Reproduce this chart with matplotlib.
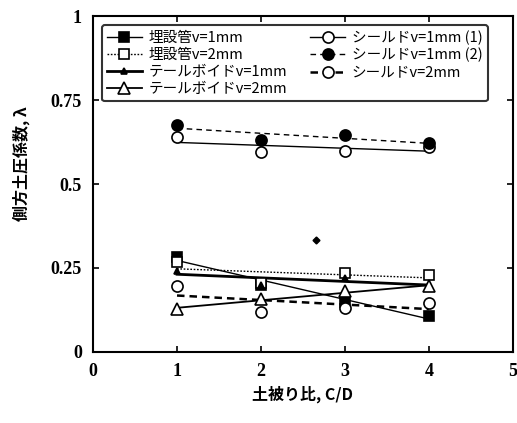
import numpy as np
import matplotlib
matplotlib.use("Agg")
import matplotlib.pyplot as plt
from matplotlib.lines import Line2D

plt.rcParams['font.family'] = ['Noto Sans CJK JP', 'DejaVu Sans']

cd = [1, 2, 3, 4]
pipe_1mm = [0.284, 0.200, 0.150, 0.107]
pipe_2mm = [0.269, 0.204, 0.234, 0.229]
tail_1mm = [0.242, 0.200, 0.219, 0.200]
tail_2mm = [0.128, 0.157, 0.180, 0.195]
shield_1mm_a = [0.640, 0.595, 0.598, 0.610]
shield_1mm_b = [0.676, 0.631, 0.646, 0.621]
shield_2mm = [0.196, 0.118, 0.130, 0.147]
stray_x = [2.65]
stray_y = [0.333]

labels = ['埋設管v=1mm', '埋設管v=2mm', 'テールボイドv=1mm', 'テールボイドv=2mm',
          'シールドv=1mm (1)', 'シールドv=1mm (2)', 'シールドv=2mm']
series = [pipe_1mm, pipe_2mm, tail_1mm, tail_2mm, shield_1mm_a, shield_1mm_b, shield_2mm]
styles = [
    dict(marker='s', mfc='black', ms=7.5, ls='-', lw=1.0),
    dict(marker='s', mfc='white', ms=7.5, ls=(0, (1.2, 1.2)), lw=1.0),
    dict(marker='^', mfc='black', ms=4, ls='-', lw=2.0),
    dict(marker='^', mfc='white', ms=8.5, ls='-', lw=1.3),
    dict(marker='o', mfc='white', ms=8, ls='-', lw=1.0),
    dict(marker='o', mfc='black', ms=8, ls=(0, (4, 3)), lw=1.0),
    dict(marker='o', mfc='white', ms=8, ls=(0, (3, 2)), lw=1.8),
]

fig = plt.figure(figsize=(5.17, 4.23), dpi=100)
ax = fig.add_axes([0.18, 0.168, 0.812, 0.794])

x = np.array(cd, dtype=float)
handles = []
for y, st, lab in zip(series, styles, labels):
    coef = np.polyfit(x, y, 1)
    ax.plot(x, np.polyval(coef, x), color='black', ls=st['ls'], lw=st['lw'], zorder=2)
    ax.plot(x, y, ls='none', marker=st['marker'], mfc=st['mfc'], mec='black',
            ms=st['ms'], mew=1.2, zorder=3)
    handles.append(Line2D([], [], color='black', ls=st['ls'], lw=st['lw'],
                          marker=st['marker'], mfc=st['mfc'], mec='black',
                          ms=st['ms'], mew=1.2))

ax.plot(stray_x, stray_y, ls='none', marker='D', color='black', ms=3.5)

ax.set_xlim(0, 5)
ax.set_ylim(0, 1)
ax.set_xticks([0, 1, 2, 3, 4, 5])
ax.set_yticks([0, 0.25, 0.5, 0.75, 1])
ax.set_yticklabels(['0', '0.25', '0.5', '0.75', '1'])
ax.tick_params(direction='in', top=True, right=True, length=4, width=1.2, pad=8)
for lab in ax.get_xticklabels() + ax.get_yticklabels():
    lab.set_fontfamily(['Liberation Serif'])
    lab.set_fontweight('bold')
    lab.set_fontsize(13)
for sp in ax.spines.values():
    sp.set_linewidth(1.5)

ax.set_xlabel('土被り比, C/D', fontsize=11.5, fontweight='bold',
              family=['Noto Sans CJK JP', 'DejaVu Sans'], labelpad=4)
ax.set_ylabel('側方土圧係数, λ', fontsize=11.5, fontweight='bold',
              family=['Noto Sans CJK JP', 'DejaVu Sans'], labelpad=6)
ax.yaxis.set_label_coords(-0.15, 0.56)

leg = ax.legend(handles, labels, ncol=2, loc='upper left', bbox_to_anchor=(0.003, 0.995),
                fontsize=10.5, frameon=True, fancybox=True, edgecolor='black',
                handlelength=2.4, handletextpad=0.45, columnspacing=1.6,
                labelspacing=0.22, borderpad=0.35)
leg.get_frame().set_linewidth(1.5)

fig.savefig('out.png', dpi=100)
